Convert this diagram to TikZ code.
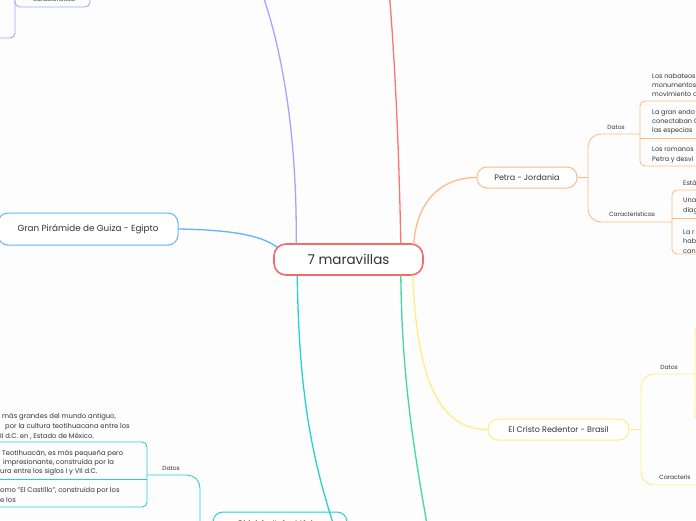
\documentclass[tikz,border=0pt]{standalone}
\usepackage{fontspec}
\setmainfont{Poppins}
\usetikzlibrary{calc}
\definecolor{cred}{HTML}{F26B6B}
\definecolor{redl}{HTML}{FF7373}
\definecolor{purp}{HTML}{A5A5FF}
\definecolor{blu}{HTML}{62B4F7}
\definecolor{ora}{HTML}{FFBA85}
\definecolor{yel}{HTML}{FFEC85}
\definecolor{grn}{HTML}{3FD9A3}
\definecolor{cyanc}{HTML}{27CFD8}
\definecolor{tgray}{HTML}{333333}
\definecolor{bg}{HTML}{FDFDFD}
\tikzset{
  mainbox/.style={draw=cred, line width=1.6pt, rounded corners=12pt, fill=white, text=tgray,
    minimum width=149pt, minimum height=31pt, inner sep=0pt, font=\fontsize{13.5}{15}\selectfont},
  topicbox/.style={line width=1pt, rounded corners=10pt, fill=white, text=tgray, inner sep=0pt,
    font=\fontsize{8}{10}\selectfont},
  lbl/.style={text=tgray, inner sep=0pt, font=\fontsize{6}{7}\selectfont},
  txt/.style={text=tgray, inner sep=0pt, font=\fontsize{6.5}{9.3}\selectfont, align=left},
  oneline/.style={text=tgray, inner sep=0pt, font=\fontsize{6.8}{9.3}\selectfont, anchor=west},
  link/.style={line width=1.3pt},
  sublink/.style={line width=0.9pt, rounded corners=13pt},
  itembox/.style={line width=0.9pt, rounded corners=5pt},
}
\begin{document}
\begin{tikzpicture}[x=1pt,y=-1pt]
\useasboundingbox (0,0) rectangle (696,520);
\clip (0,0) rectangle (696,520);
\fill[bg] (0,0) rectangle (696,520);

% ---------- main nodes ----------
\node[mainbox] (c) at (348.5,259.5) {7 maravillas};
\node[topicbox, draw=blu, minimum width=180pt, minimum height=32pt, font=\fontsize{8.8}{10}\selectfont] (giza) at (88,229) {Gran Pirámide de Guiza - Egipto};
\node[topicbox, draw=ora, minimum width=100pt, minimum height=21pt] (petra) at (527,177.5) {Petra - Jordania};
\node[topicbox, draw=yel, minimum width=141pt, minimum height=21pt] (cristo) at (558.5,429.5) {El Cristo Redentor - Brasil};
\node[topicbox, draw=cyanc, minimum width=134pt, minimum height=22pt] (chi) at (280,523) {Chichén Itzá - México};

% off-canvas ends
\coordinate (purpEnd) at (261,-10);
\coordinate (redEnd) at (389,-10);
\coordinate (grnEnd) at (428,530);
\coordinate (chiIn) at (337,535);

% ---------- main connectors ----------
\draw[purp, link] ($(c.north west)+(23,0)$) .. controls (297,150) and (286,60) .. (purpEnd);
\draw[redl, link] ($(c.north east)+(-23,0)$) .. controls (399,150) and (395,60) .. (redEnd);
\draw[blu, link] (giza.east) .. controls (235,230) and (262,236) .. ($(c.north west)+(4,4)$);
\draw[ora, link] ($(c.north east)+(-10,1)$) .. controls (416,205) and (438,177.5) .. (petra.west);
\draw[yel, link] ($(c.south east)+(-11,0)$) .. controls (417,385) and (442,429.5) .. (cristo.west);
\draw[grn, link] ($(c.south east)+(-23,0)$) .. controls (402,380) and (414,450) .. (grnEnd);
\draw[cyanc, link] ($(c.south west)+(24,0)$) .. controls (299,380) and (308,450) .. (chiIn);

% ---------- purple group (top left) ----------
\draw[purp, itembox] (15,-30) rectangle (90,7);
\draw[purp, line width=0.9pt, rounded corners=5pt] (15,-30) -- (15,38) -- (-20,38);
\node[lbl, anchor=base] (caract0) at (54,1.5) {característica};

% ---------- Petra group ----------
\coordinate (pj) at (588,177.5);
\coordinate (pdb) at (640,134);
\coordinate (pcb) at (672,222);
\draw[ora, line width=0.9pt] (petra.east) -- (pj);
\draw[ora, sublink] (pj) |- (pdb);
\draw[ora, sublink] (pj) |- (pcb);
\node[lbl] (pdatos) at (616,127.5) {Datos};
\node[lbl] (pcar) at (632,214.5) {Características};
\draw[ora, itembox] (640,101) rectangle (740,166);
\draw[ora, line width=0.9pt] (640,138) -- (740,138);
\draw[ora, itembox] (672,190) rectangle (740,254);
\draw[ora, line width=0.9pt] (672,218) -- (740,218);
\node[txt, anchor=west] (pd1) at (652,85) {Los nabateos\\monumentos\\movimiento d};
\node[txt, anchor=west] (pd2) at (652,122) {La gran endo\\conectaban C\\las especias};
\node[txt, anchor=west] (pd3) at (652,155) {Los romanos\\Petra y desvi};
\node[txt, anchor=west] (pc1) at (683,183) {Está};
\node[txt, anchor=west] (pc2) at (683,206) {Una\\diag};
\node[txt, anchor=west] (pc3) at (683,241.5) {La r\\hab\\can};

% ---------- Cristo group ----------
\coordinate (cj) at (641,429.5);
\coordinate (cdb) at (695,374);
\coordinate (ccb) at (720,485);
\draw[yel, line width=0.9pt] (cristo.east) -- (cj);
\draw[yel, sublink] (cj) |- (cdb);
\draw[yel, sublink] (cj) |- (ccb);
\node[lbl] (cdatos) at (669,367.5) {Datos};
\node[lbl, anchor=west] (ccar) at (659,477.5) {Caracterís};
\draw[yel, itembox] (695,326) rectangle (760,420);

% ---------- Chichen group ----------
\coordinate (chj) at (200,523);
\coordinate (chdb) at (147,475);
\draw[cyanc, line width=0.9pt] (chi.west) -- (chj);
\draw[cyanc, sublink] (chj) |- (chdb);
\node[lbl] (chdatos) at (171,468) {Datos};
\draw[cyanc, itembox] (-20,442) rectangle (147,507);
\draw[cyanc, line width=0.9pt] (-20,479) -- (147,479);
\node[oneline] (l1) at (2,417) {más grandes del mundo antiguo,};
\node[oneline] (l2) at (5,427) {por la cultura teotihuacana entre los};
\node[oneline] (l3) at (0,436) {II d.C. en , Estado de México.};
\node[oneline] (l4) at (2,454) {Teotihuacán, es más pequeña pero};
\node[oneline] (l5) at (3,463) {impresionante, construida por la};
\node[oneline] (l6) at (0,472) {ura entre los siglos I y VII d.C.};
\node[oneline] (l7) at (0,491) {omo "El Castillo", construida por los};
\node[oneline] (l8) at (0,500) {e los};
\end{tikzpicture}
\end{document}
